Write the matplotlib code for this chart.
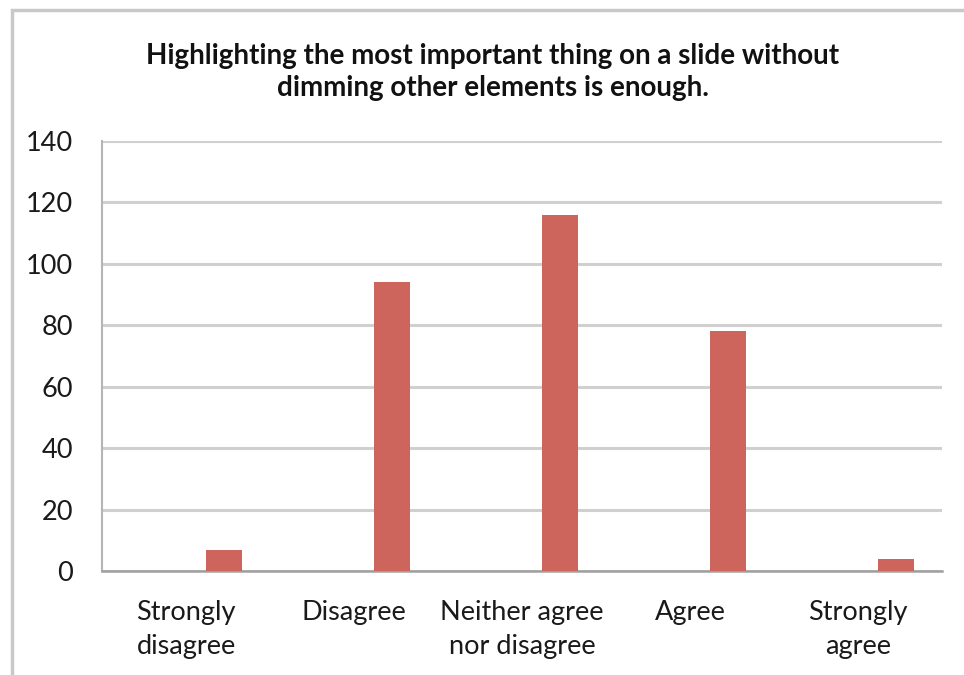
import matplotlib
matplotlib.use("Agg")
import matplotlib.pyplot as plt
from matplotlib.patches import Rectangle

categories = ["Strongly\ndisagree", "Disagree", "Neither agree\nnor disagree", "Agree", "Strongly\nagree"]
values = [7, 94, 116, 78, 4]
yticks = [0, 20, 40, 60, 80, 100, 120, 140]
title = "Highlighting the most important thing on a slide without\ndimming other elements is enough."

W, H = 964, 675
fig = plt.figure(figsize=(W / 100, H / 100), dpi=100)
plt.rcParams['font.family'] = ['Lato', 'DejaVu Sans']

# outer frame
fig.patches.append(Rectangle((12 / W, -0.1), 1.2, (H - 10) / H + 0.1, transform=fig.transFigure,
                             fill=False, edgecolor='#c8c8c8', linewidth=2.5))

ax = fig.add_axes([102 / W, (H - 571) / H, (942 - 102) / W, (571 - 141) / H])
x = list(range(len(categories)))
xb = [i + 0.225 for i in x]
ax.bar(xb, values, width=0.215, color='#cd655c', zorder=3)
ax.set_xlim(-0.5, len(categories) - 0.5)
ax.set_ylim(0, 140)
ax.set_yticks(yticks)
ax.set_xticks(x)
ax.set_xticklabels(categories, fontsize=19.5, color='#1a1a1a', linespacing=1.45)
ax.tick_params(axis='y', labelsize=19.5, colors='#1a1a1a', length=0, pad=21)
ax.tick_params(axis='x', length=0, pad=21)
ax.grid(axis='y', color='#d0d0d0', linewidth=2.2, zorder=0)
for s in ['top', 'right']:
    ax.spines[s].set_visible(False)
ax.spines['left'].set_color('#b5b5b5')
ax.spines['left'].set_linewidth(1.5)
ax.spines['bottom'].set_color('#a0a0a0')
ax.spines['bottom'].set_linewidth(1.8)

fig.text(493 / W, 1 - 72 / H, title, ha='center', va='center', fontsize=20, fontweight='bold',
         color='#111111', linespacing=1.3)

fig.savefig("out.png", dpi=100, facecolor='white')
